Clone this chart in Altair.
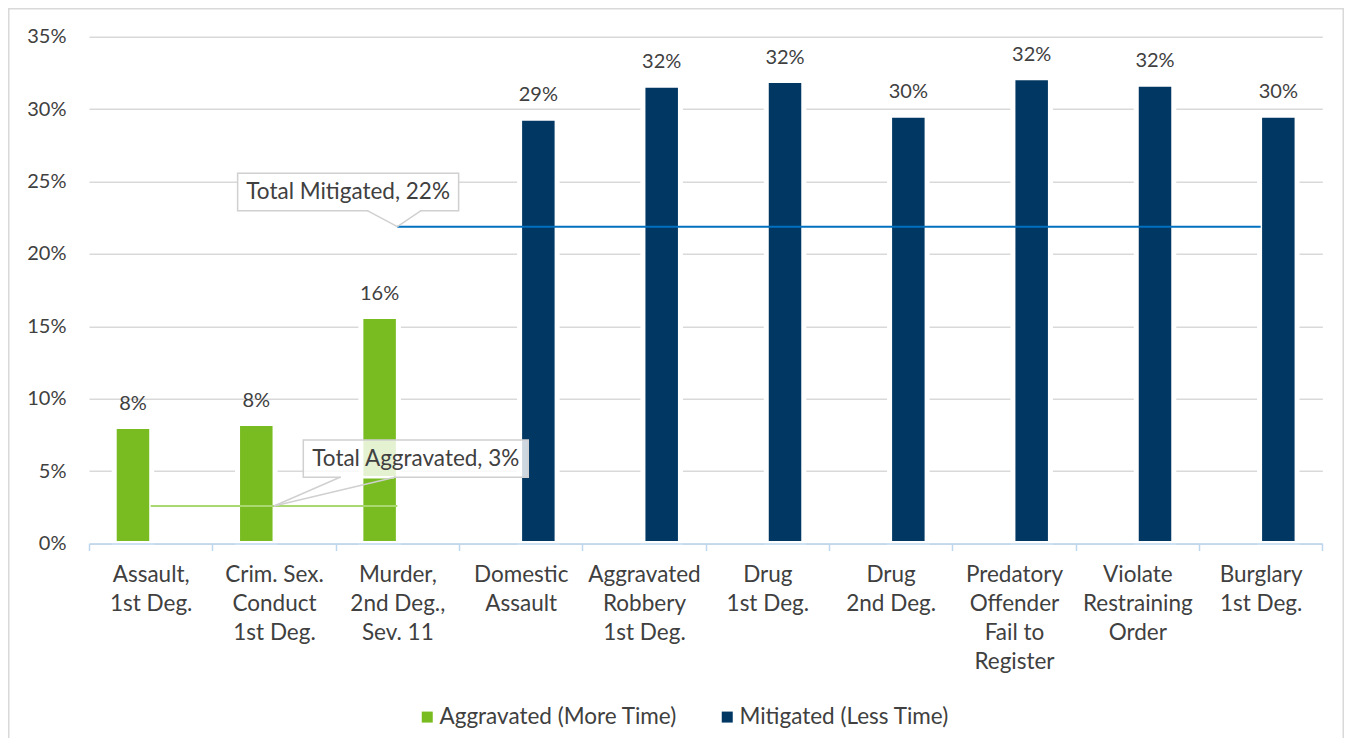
import altair as alt
import pandas as pd

# ---- data ----
categories = [
    "Assault,|1st Deg.",
    "Crim. Sex.|Conduct|1st Deg.",
    "Murder,|2nd Deg.,|Sev. 11",
    "Domestic|Assault",
    "Aggravated|Robbery|1st Deg.",
    "Drug|1st Deg.",
    "Drug|2nd Deg.",
    "Predatory|Offender|Fail to|Register",
    "Violate|Restraining|Order",
    "Burglary|1st Deg.",
]
series_names = ["Aggravated (More Time)", "Mitigated (Less Time)"]
bar_series = [series_names[0]] * 3 + [series_names[1]] * 7
bar_values = [0.0808, 0.0828, 0.1567, 0.2936, 0.3165, 0.3197, 0.2957, 0.3216, 0.3172, 0.2957]

total_names = ["Total Aggravated", "Total Mitigated"]
total_values = [0.0259, 0.2188]
total_start = [categories[0], categories[2]]
total_end = [categories[2], categories[9]]
callout_anchor = [categories[1], categories[2]]

y_ticks = [0, 0.05, 0.10, 0.15, 0.20, 0.25, 0.30, 0.35]

# ---- style ----
FONT = "Lato"
TXT = "#404040"
GREEN = "#78bc21"
NAVY = "#003763"
AGG_LINE = "#a9d870"
MIT_LINE = "#0070c0"
GRID = "#d9d9d9"
AXIS_BLUE = "#bdd7ee"
FS_TEXT = 22.5
FS_NUM = 20

W, H = 1233.3, 506.8

bars_df = pd.DataFrame({"cat": categories, "series": bar_series, "value": bar_values})

xscale = alt.Scale(domain=categories, paddingInner=0, paddingOuter=0)
x_enc = alt.X(
    "cat:N",
    scale=xscale,
    sort=categories,
    title=None,
    axis=alt.Axis(
        labelExpr="split(datum.label, '|')",
        labelAngle=0,
        labelFont=FONT,
        labelFontSize=FS_TEXT,
        labelColor=TXT,
        labelLineHeight=29,
        labelPadding=13,
        labelBaseline="top",
        domainColor=AXIS_BLUE,
        domainWidth=1.5,
        tickColor=AXIS_BLUE,
        tickWidth=1.5,
        tickSize=7,
        tickBand="extent",
        grid=False,
        zindex=1,
        labelLimit=0,
    ),
)
y_enc = alt.Y(
    "value:Q",
    scale=alt.Scale(domain=[0, 0.35], nice=False),
    title=None,
    axis=alt.Axis(
        values=y_ticks,
        format=".0%",
        labelFont=FONT,
        labelFontSize=FS_NUM,
        labelColor=TXT,
        labelPadding=23,
        domain=False,
        ticks=False,
        gridColor=GRID,
        gridWidth=1.5,
    ),
)
xoff = alt.XOffset(
    "series:N", scale=alt.Scale(domain=series_names, paddingInner=0, paddingOuter=0.742)
)

base = alt.Chart(bars_df)

bars = base.mark_bar(width=37.5, stroke="white", strokeWidth=5).encode(
    x=x_enc,
    xOffset=xoff,
    y=y_enc,
    color=alt.Color(
        "series:N",
        scale=alt.Scale(domain=series_names, range=[GREEN, NAVY]),
        legend=alt.Legend(
            title=None,
            orient="none",
            direction="horizontal",
            legendX=327,
            legendY=669,
            symbolType="square",
            symbolSize=121,
            symbolStrokeWidth=0,
            labelFont=FONT,
            labelFontSize=FS_TEXT,
            labelColor=TXT,
            labelOffset=1,
            columnPadding=39,
            padding=0,
            labelLimit=0,
        ),
    ),
)

labels = base.mark_text(font=FONT, fontSize=FS_NUM, color=TXT, dy=-17, baseline="alphabetic").encode(
    x=alt.X("cat:N", scale=xscale, sort=categories),
    xOffset=xoff,
    y=alt.Y("value:Q"),
    text=alt.Text("value:Q", format=".0%"),
)

tot_df = pd.DataFrame({
    "name": total_names, "value": total_values,
    "start": total_start, "end": total_end, "anchor": callout_anchor,
})

layers = [bars, labels]

for i, color in enumerate([AGG_LINE, MIT_LINE]):
    d = alt.Chart(tot_df.iloc[[i]])
    layers.append(
        d.mark_rule(color=color, strokeWidth=2).encode(
            x=alt.X("start:N", scale=xscale, sort=categories),
            x2="end:N",
            y=alt.Y("value:Q"),
        )
    )

# callout geometry (pixel offsets relative to the anchor point on each total line)
callouts = [
    dict(box=(29.3, 254.3, -66.0, -28.7), base=(66.0, 121.0), opacity=0.8),
    dict(box=(-159.7, 61.3, -53.4, -16.0), base=(-30.0, 23.7), opacity=1.0),
]

for i, c in enumerate(callouts):
    d = alt.Chart(tot_df.iloc[[i]]).transform_calculate(
        label="datum.name + ', ' + format(datum.value, '.0%')"
    )
    bx0, bx1, by0, by1 = c["box"]
    p0, p1 = c["base"]
    xa = alt.X("anchor:N", scale=xscale, sort=categories)
    layers.append(
        d.mark_rect(
            fill="white", fillOpacity=c["opacity"], stroke="#d0d0d0", strokeWidth=1.5,
            xOffset=bx0, x2Offset=bx1, yOffset=by0, y2Offset=by1,
        ).encode(x=xa, x2="anchor:N", y=alt.Y("value:Q"), y2="value:Q")
    )
    # erase border at pointer base
    layers.append(
        d.mark_rule(color="white", strokeWidth=2.5, xOffset=p0 + 1, x2Offset=p1 - 1, yOffset=by1).encode(
            x=xa, x2="anchor:N", y=alt.Y("value:Q")
        )
    )
    for p in (p0, p1):
        layers.append(
            d.mark_rule(color="#d0d0d0", strokeWidth=1.5, x2Offset=p, y2Offset=by1).encode(
                x=xa, x2="anchor:N", y=alt.Y("value:Q"), y2="value:Q"
            )
        )
    layers.append(
        d.mark_text(
            font=FONT, fontSize=FS_TEXT, color=TXT, align="center", baseline="middle",
            xOffset=(bx0 + bx1) / 2, yOffset=(by0 + by1) / 2,
        ).encode(x=xa, y=alt.Y("value:Q"), text="label:N")
    )

PAD_L, PAD_T, PAD_R, PAD_B = 81, 28.7, 21.7, 194.5

frame = alt.Chart(pd.DataFrame({"k": [0]})).mark_rect(
    fill=None, stroke=GRID, strokeWidth=1.5
).encode(
    x=alt.value(-PAD_L + 0.75), x2=alt.value(W + PAD_R - 0.75),
    y=alt.value(-PAD_T + 0.75), y2=alt.value(H + PAD_B + 20),
)

chart = alt.layer(frame, *layers).properties(
    width=W,
    height=H,
    autosize=alt.AutoSizeParams(type="none"),
    padding={"left": PAD_L, "top": PAD_T, "right": PAD_R, "bottom": PAD_B},
    background="white",
).configure_view(stroke=None)

chart.save("out.html", embed_options={"renderer": "svg", "actions": False})
